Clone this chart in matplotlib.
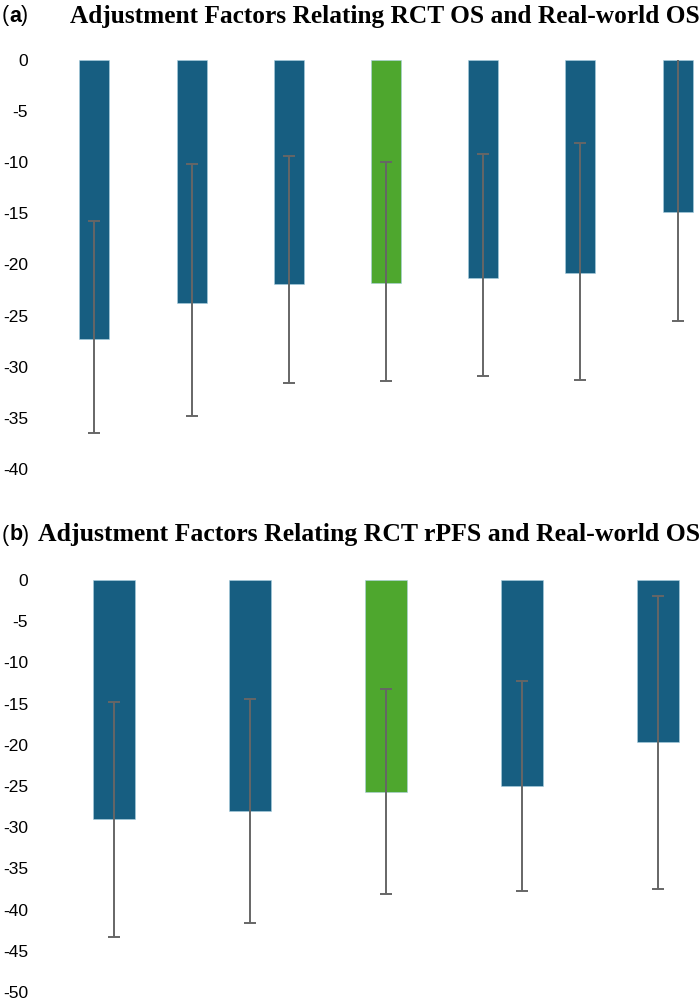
import matplotlib
matplotlib.use("Agg")
import matplotlib.pyplot as plt
import numpy as np

# Panel (a): RCT OS vs real-world OS
a_values = [-27.3, -23.8, -21.9, -21.8, -21.3, -20.8, -14.9]
a_ci_upper = [-15.7, -10.2, -9.4, -10.0, -9.2, -8.1, 1.0]
a_ci_lower = [-36.5, -34.8, -31.6, -31.4, -30.9, -31.3, -25.5]
a_highlight = [False, False, False, True, False, False, False]

# Panel (b): RCT rPFS vs real-world OS
b_values = [-29.0, -28.0, -25.7, -25.0, -19.7]
b_ci_upper = [-14.75, -14.5, -13.2, -12.2, -2.0]
b_ci_lower = [-43.3, -41.6, -38.1, -37.8, -37.5]
b_highlight = [False, False, True, False, False]

a_yticks = [0, -5, -10, -15, -20, -25, -30, -35, -40]
b_yticks = [0, -5, -10, -15, -20, -25, -30, -35, -40, -45, -50]

title_a = "Adjustment Factors Relating RCT OS and Real-world OS"
title_b = "Adjustment Factors Relating RCT rPFS and Real-world OS"

BLUE = "#175E81"
GREEN = "#4EA72E"
ERR = "#666666"

fig = plt.figure(figsize=(7, 10), dpi=100)


def panel(rect, values, up, lo, hl, yticks, xlim):
    ax = fig.add_axes(rect)
    x = np.arange(len(values))
    v = np.array(values)
    colors = [GREEN if h else BLUE for h in hl]
    ax.bar(x, v, width=0.31, color=colors, edgecolor="#a9cfe0", linewidth=0.4, zorder=2)
    yerr = np.vstack([v - np.array(lo), np.array(up) - v])
    ax.errorbar(x, v, yerr=yerr, fmt="none", ecolor=ERR, elinewidth=1.4,
                capsize=4.5, capthick=1.4, zorder=3)
    ax.set_xlim(*xlim)
    ax.set_ylim(min(yticks), 0)
    ax.set_yticks(yticks)
    ax.set_yticklabels([str(t) for t in yticks], fontsize=12.5, family="Liberation Sans")
    ax.tick_params(axis="y", length=0, pad=12)
    ax.set_xticks([])
    for s in ax.spines.values():
        s.set_visible(False)
    return ax


panel([0.064, 0.531, 0.936, 0.409], a_values, a_ci_upper, a_ci_lower, a_highlight,
      a_yticks, (-0.51, 6.23))
panel([0.064, 0.008, 0.936, 0.412], b_values, b_ci_upper, b_ci_lower, b_highlight,
      b_yticks, (-0.51, 4.31))

renderer = fig.canvas.get_renderer()


def panel_label(letter, y):
    x = 0.003
    for part, w in (("(", "normal"), (letter, "bold"), (")", "normal")):
        t = fig.text(x, y, part, fontsize=15.5, family="Liberation Sans", weight=w,
                     va="center", ha="left")
        bb = t.get_window_extent(renderer)
        x += bb.width / fig.bbox.width


panel_label("a", 0.984)
panel_label("b", 0.465)
fig.text(0.9995, 0.984, title_a, fontsize=18.25, family="Liberation Serif", weight="bold",
         va="center", ha="right")
fig.text(0.9995, 0.465, title_b, fontsize=18.55, family="Liberation Serif", weight="bold",
         va="center", ha="right")

fig.savefig("out.png", dpi=100, facecolor="white")
